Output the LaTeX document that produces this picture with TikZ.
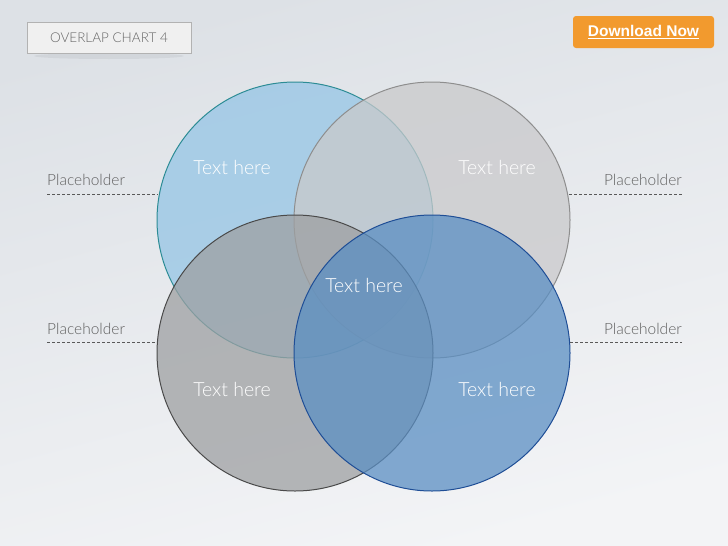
\documentclass[tikz,border=0pt]{standalone}
\usepackage{fontspec}
\setmainfont{Lato Light}[BoldFont=Lato]
\newfontfamily\btnfont{Liberation Sans}
\usepackage{xcolor}
\definecolor{bgtop}{RGB}{221, 225, 230}
\definecolor{bgbot}{RGB}{243, 244, 246}
\definecolor{tlfill}{RGB}{149, 197, 229}
\definecolor{tlline}{RGB}{44, 140, 149}
\definecolor{trfill}{RGB}{201, 201, 203}
\definecolor{trline}{RGB}{142, 142, 142}
\definecolor{blfill}{RGB}{158, 160, 162}
\definecolor{blline}{RGB}{74, 74, 74}
\definecolor{brfill}{RGB}{91, 143, 195}
\definecolor{brline}{RGB}{31, 78, 150}
\definecolor{phtext}{RGB}{95, 95, 95}
\definecolor{btnorange}{RGB}{242, 154, 46}
\usepackage{tikz}

\begin{document}
\begin{tikzpicture}[x=1pt, y=-1pt,
    bubble/.style={circle, minimum size=276pt, inner sep=0pt, line width=1pt, fill opacity=0.75},
    bubbletext/.style={text=white, font=\fontsize{19.5}{22}\selectfont},
    phlabel/.style={text=phtext, font=\fontsize{15.5}{18}\selectfont, inner sep=0pt},
    phline/.style={draw=black!65, line width=1pt, dash pattern=on 3pt off 2pt}]
  \shade[top color=bgtop, bottom color=bgbot, shading angle=15] (0,0) rectangle (728,546);
  \useasboundingbox (0,0) rectangle (728,546);

  \fill[black, opacity=0.05] (109,56) ellipse (75pt and 3pt);
  \node[draw=black!30, fill=white!94!black, line width=0.8pt, minimum width=164pt, minimum height=31pt,
        inner sep=0pt, text=black!60, font=\fontsize{13.5}{16}\selectfont] (title) at (109,37.5) {OVERLAP CHART 4};
  \node[fill=btnorange, rounded corners=3pt, minimum width=141pt, minimum height=32pt, inner sep=0pt,
        text=white, font=\btnfont\bfseries\fontsize{15.5}{18}\selectfont] (download) at (643.5,32) {\underline{Download Now}};

  \node[bubble, draw=tlline, fill=tlfill] (tl) at (295,220) {};
  \node[bubble, draw=trline, fill=trfill] (tr) at (432,220) {};
  \node[bubble, draw=blline, fill=blfill] (bl) at (295,353) {};
  \node[bubble, draw=brline, fill=brfill] (br) at (432,353) {};

  \node[bubbletext] (tltext) at (232,167) {Text here};
  \node[bubbletext] (trtext) at (497,167) {Text here};
  \node[bubbletext] (bltext) at (232,389) {Text here};
  \node[bubbletext] (brtext) at (497,389) {Text here};
  \node[bubbletext] (ctext) at (364,285) {Text here};

  \node[phlabel, anchor=base west] (ph1) at (47,185) {Placeholder};
  \node[phlabel, anchor=base east] (ph2) at (682,185) {Placeholder};
  \node[phlabel, anchor=base west] (ph3) at (47,334) {Placeholder};
  \node[phlabel, anchor=base east] (ph4) at (682,334) {Placeholder};

  \coordinate (l1) at (158,194);
  \coordinate (r1) at (569,194);
  \coordinate (l2) at (157,342);
  \coordinate (r2) at (570,342);
  \draw[phline] (ph1.west |- l1) -- (l1);
  \draw[phline] (r1) -- (ph2.east |- r1);
  \draw[phline] (ph3.west |- l2) -- (l2);
  \draw[phline] (r2) -- (ph4.east |- r2);
\end{tikzpicture}
\end{document}
